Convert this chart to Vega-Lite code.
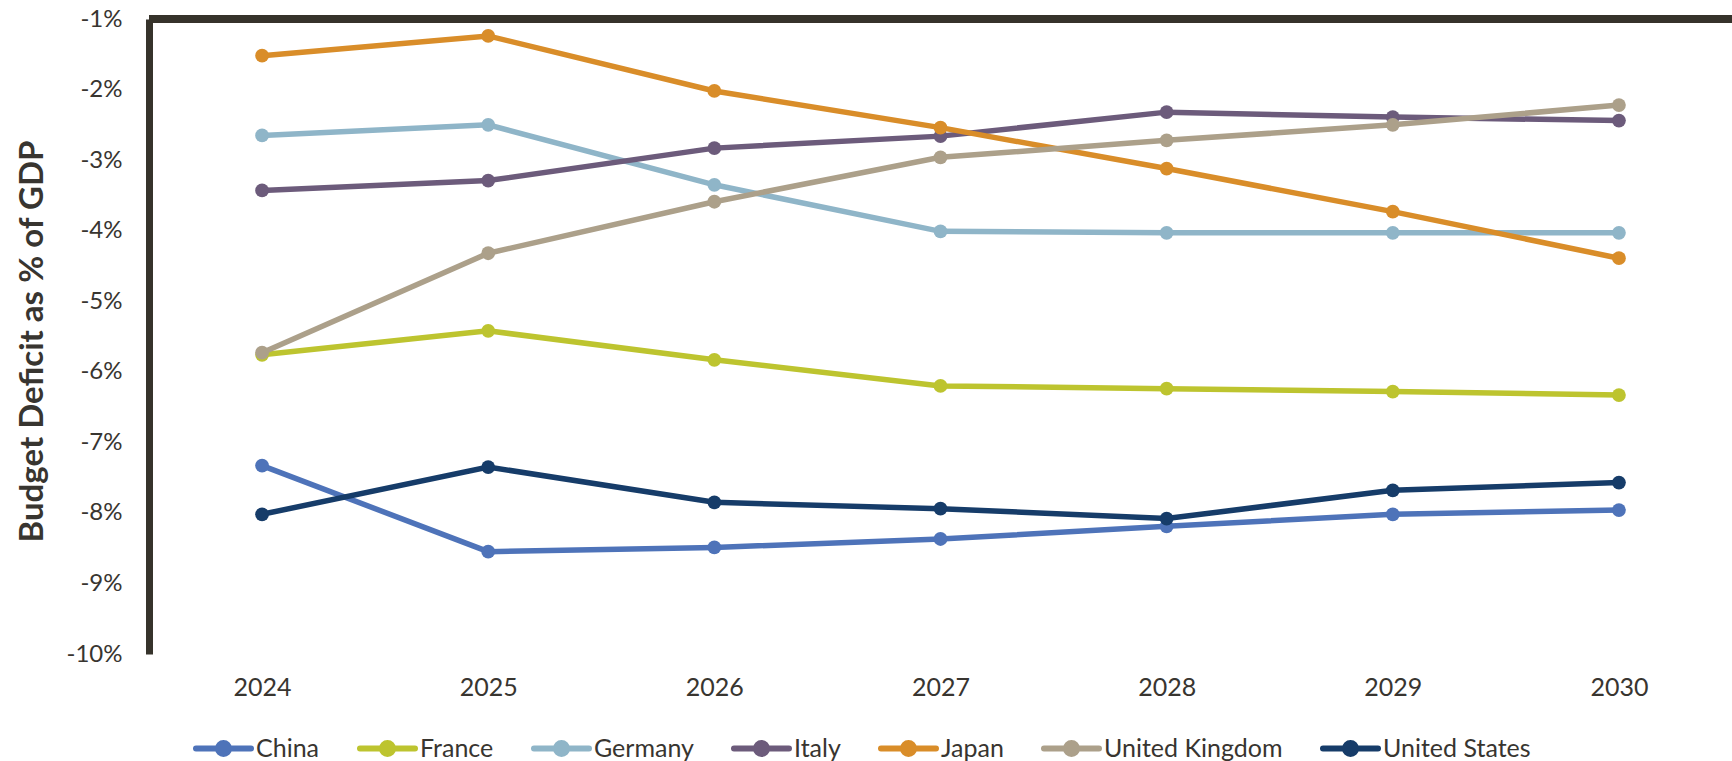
{
  "$schema": "https://vega.github.io/schema/vega-lite/v6.json",
  "autosize": {"type": "none"},
  "padding": {"left": 149, "top": 19, "right": 0, "bottom": 107},
  "width": 1583,
  "height": 635,
  "background": "white",
  "config": {
    "font": "Lato",
    "view": {"stroke": null},
    "axis": {"labelColor": "#383530", "titleColor": "#383530", "grid": false}
  },
  "data": {
    "values": [
      {"year": "2024", "country": "China", "value": -7.33},
      {"year": "2025", "country": "China", "value": -8.55},
      {"year": "2026", "country": "China", "value": -8.49},
      {"year": "2027", "country": "China", "value": -8.37},
      {"year": "2028", "country": "China", "value": -8.19},
      {"year": "2029", "country": "China", "value": -8.02},
      {"year": "2030", "country": "China", "value": -7.96},
      {"year": "2024", "country": "France", "value": -5.76},
      {"year": "2025", "country": "France", "value": -5.42},
      {"year": "2026", "country": "France", "value": -5.83},
      {"year": "2027", "country": "France", "value": -6.2},
      {"year": "2028", "country": "France", "value": -6.24},
      {"year": "2029", "country": "France", "value": -6.28},
      {"year": "2030", "country": "France", "value": -6.33},
      {"year": "2024", "country": "Germany", "value": -2.65},
      {"year": "2025", "country": "Germany", "value": -2.5},
      {"year": "2026", "country": "Germany", "value": -3.35},
      {"year": "2027", "country": "Germany", "value": -4.01},
      {"year": "2028", "country": "Germany", "value": -4.03},
      {"year": "2029", "country": "Germany", "value": -4.03},
      {"year": "2030", "country": "Germany", "value": -4.03},
      {"year": "2024", "country": "Italy", "value": -3.43},
      {"year": "2025", "country": "Italy", "value": -3.29},
      {"year": "2026", "country": "Italy", "value": -2.83},
      {"year": "2027", "country": "Italy", "value": -2.66},
      {"year": "2028", "country": "Italy", "value": -2.32},
      {"year": "2029", "country": "Italy", "value": -2.39},
      {"year": "2030", "country": "Italy", "value": -2.44},
      {"year": "2024", "country": "Japan", "value": -1.52},
      {"year": "2025", "country": "Japan", "value": -1.24},
      {"year": "2026", "country": "Japan", "value": -2.02},
      {"year": "2027", "country": "Japan", "value": -2.54},
      {"year": "2028", "country": "Japan", "value": -3.12},
      {"year": "2029", "country": "Japan", "value": -3.73},
      {"year": "2030", "country": "Japan", "value": -4.39},
      {"year": "2024", "country": "United Kingdom", "value": -5.73},
      {"year": "2025", "country": "United Kingdom", "value": -4.32},
      {"year": "2026", "country": "United Kingdom", "value": -3.59},
      {"year": "2027", "country": "United Kingdom", "value": -2.96},
      {"year": "2028", "country": "United Kingdom", "value": -2.72},
      {"year": "2029", "country": "United Kingdom", "value": -2.5},
      {"year": "2030", "country": "United Kingdom", "value": -2.22},
      {"year": "2024", "country": "United States", "value": -8.02},
      {"year": "2025", "country": "United States", "value": -7.35},
      {"year": "2026", "country": "United States", "value": -7.85},
      {"year": "2027", "country": "United States", "value": -7.94},
      {"year": "2028", "country": "United States", "value": -8.08},
      {"year": "2029", "country": "United States", "value": -7.68},
      {"year": "2030", "country": "United States", "value": -7.57}
    ]
  },
  "layer": [
    {
      "mark": {"type": "rule", "color": "#36332b", "strokeWidth": 7},
      "encoding": {"y": {"datum": -1, "type": "quantitative"}}
    },
    {
      "mark": {"type": "line", "strokeWidth": 5.5, "point": {"filled": true, "size": 190, "opacity": 1}},
      "encoding": {
        "x": {
          "field": "year", "type": "ordinal",
          "scale": {"type": "point", "padding": 0.5},
          "axis": {"title": null, "domain": false, "ticks": false, "labelAngle": 0, "labelFontSize": 25, "labelPadding": 21}
        },
        "y": {
          "field": "value", "type": "quantitative",
          "scale": {"domain": [-10, -1], "nice": false, "zero": false},
          "axis": {
            "title": "Budget Deficit as % of GDP",
            "titleFontSize": 33, "titleFontWeight": "bold", "titleY": 322, "titleX": -117,
            "titleAngle": -90, "titleAlign": "center", "titleBaseline": "middle",
            "values": [-1, -2, -3, -4, -5, -6, -7, -8, -9, -10],
            "labelExpr": "datum.value + '%'",
            "labelFontSize": 24, "labelPadding": 27,
            "ticks": false,
            "domain": true, "domainColor": "#36332b", "domainWidth": 7
          }
        },
        "color": {
          "field": "country", "type": "nominal",
          "scale": {
            "domain": ["China", "France", "Germany", "Italy", "Japan", "United Kingdom", "United States"],
            "range": ["#4e73b9", "#bdc42f", "#8fb5c8", "#6c5b7b", "#d98d29", "#aca08a", "#163c69"]
          },
          "legend": {
            "title": null,
            "orient": "none",
            "direction": "horizontal",
            "legendX": 44,
            "legendY": 699,
            "symbolType": "M-1,0H1M-0.2,0A0.2,0.2,0,1,1,0.2,0A0.2,0.2,0,1,1,-0.2,0Z",
            "symbolSize": 3025,
            "labelFontSize": 25,
            "labelLimit": 0,
            "labelColor": "#383530",
            "labelOffset": 2,
            "columnPadding": 28,
            "encode": {"symbols": {"update": {
              "fill": {"scale": "color", "field": "value"},
              "fillOpacity": {"value": 1},
              "stroke": {"scale": "color", "field": "value"},
              "strokeWidth": {"value": 6},
              "strokeCap": {"value": "round"},
              "opacity": {"value": 1}
            }}}
          }
        }
      }
    }
  ]
}
